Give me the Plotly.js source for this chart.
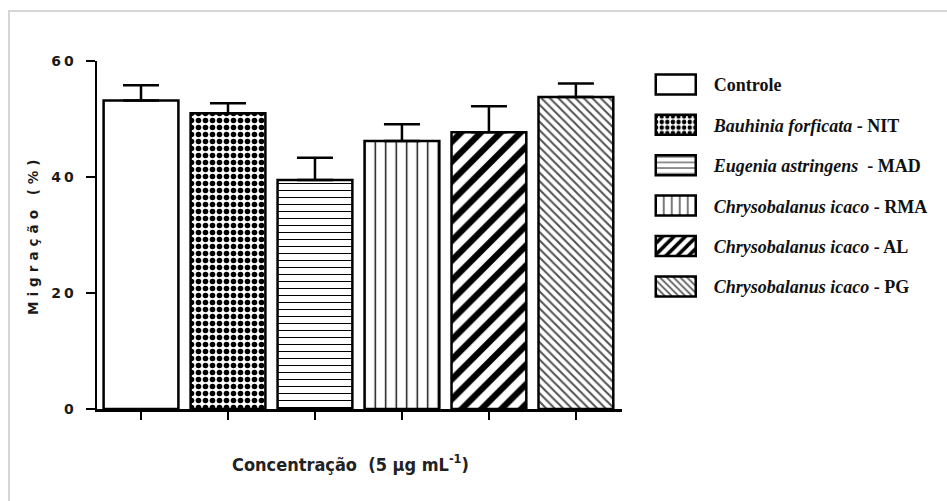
<!DOCTYPE html>
<html><head><meta charset="utf-8">
<script src="https://cdn.plot.ly/plotly-3.0.1.min.js"></script>
<style>
html,body{margin:0;padding:0;background:#fff;}
#wrap{position:relative;width:947px;height:501px;overflow:hidden;}
#chart{width:947px;height:501px;}
#frame{position:absolute;left:8px;top:10px;width:960px;height:520px;border-left:2px solid #d6d6d6;border-top:2px solid #d6d6d6;pointer-events:none;}
.ytick text{letter-spacing:3px;}
.annotation[data-index="1"] text{letter-spacing:5px;}
</style></head><body>
<div id="wrap"><div id="chart"></div><div id="frame"></div></div>
<script>
// ---- data ----
const categories = ['Controle', 'Bauhinia forficata - NIT', 'Eugenia astringens - MAD',
                    'Chrysobalanus icaco - RMA', 'Chrysobalanus icaco - AL', 'Chrysobalanus icaco - PG'];
const legendLabels = ['<b>Controle</b>',
                      '<b><i>Bauhinia forficata</i> - NIT</b>',
                      '<b><i>Eugenia astringens</i>  - MAD</b>',
                      '<b><i>Chrysobalanus icaco</i> - RMA</b>',
                      '<b><i>Chrysobalanus icaco</i> - AL</b>',
                      '<b><i>Chrysobalanus icaco</i> - PG</b>'];
const values = [53.2, 51.0, 39.5, 46.2, 47.7, 53.8];
const errors = [2.6, 1.7, 3.8, 2.9, 4.5, 2.3];
const yTickVals = [0, 20, 40, 60];
const yTickText = ['0', '20', '40', '60'];
const yTitle = 'Migração (%)';
const xTitle = '<b>Concentração  (5 µg mL<sup>-1</sup>)</b>';

// ---- styles ----
const patterns = [
  {shape: '', bgcolor: '#ffffff'},
  {shape: '.', fgcolor: '#000000', bgcolor: '#ffffff', size: 7, solidity: 0.5},
  {shape: '-', fgcolor: '#000000', bgcolor: '#ffffff', size: 7, solidity: 0.15},
  {shape: '|', fgcolor: '#000000', bgcolor: '#ffffff', size: 10.5, solidity: 0.13},
  {shape: '/', fgcolor: '#000000', bgcolor: '#ffffff', size: 14, solidity: 0.45},
  {shape: '\\', fgcolor: '#555555', bgcolor: '#ffffff', size: 6, solidity: 0.35}
];

const traces = categories.map((c, i) => ({
  type: 'bar',
  x: [c],
  y: [values[i]],
  name: legendLabels[i],
  legendgroup: 'g' + i,
  marker: {
    color: '#ffffff',
    line: {color: '#000000', width: 2.5},
    pattern: patterns[i]
  },
  error_y: {
    type: 'data', symmetric: false,
    array: [errors[i]], arrayminus: [0],
    color: '#000000', thickness: 2.5, width: 18
  },
  hoverinfo: 'x+y'
}));

const layout = {
  width: 947, height: 501,
  margin: {l: 97, r: 325, t: 61, b: 92},
  paper_bgcolor: '#ffffff', plot_bgcolor: '#ffffff',
  barmode: 'overlay',
  bargap: 0.14,
  showlegend: true,
  legend: {
    x: 1.03, xanchor: 'left', y: 0.985, yanchor: 'top',
    traceorder: 'grouped', tracegroupgap: 14,
    itemwidth: 66, valign: 'middle',
    font: {family: 'Liberation Serif, Times New Roman, serif', size: 18, color: '#111111'},
    bgcolor: 'rgba(0,0,0,0)'
  },
  xaxis: {
    type: 'category',
    categoryarray: categories,
    range: [-0.506, 5.53],
    showticklabels: false,
    ticks: 'outside', ticklen: 8, tickwidth: 2.5, tickcolor: '#000',
    showline: true, linecolor: '#000', linewidth: 2.5,
    showgrid: false, zeroline: false, fixedrange: true
  },
  yaxis: {
    range: [0, 60],
    tickvals: yTickVals, ticktext: yTickText,
    ticks: 'outside', ticklen: 9, tickwidth: 2.5, tickcolor: '#000',
    ticklabelstandoff: 6,
    tickfont: {family: 'DejaVu Sans, Arial, sans-serif', size: 14, color: '#1a1a1a', weight: 'bold'},
    showline: true, linecolor: '#000', linewidth: 2.5,
    showgrid: false, zeroline: false, fixedrange: true
  },
  annotations: [
    {text: xTitle, xref: 'paper', yref: 'paper', x: 0.482, y: -0.155,
     xanchor: 'center', yanchor: 'middle', showarrow: false,
     font: {family: 'DejaVu Sans Condensed, DejaVu Sans, sans-serif', size: 18, color: '#222222'}},
    {text: '<b>' + yTitle + '</b>', xref: 'paper', yref: 'paper', x: -0.122, y: 0.5,
     xanchor: 'center', yanchor: 'middle', textangle: -90, showarrow: false,
     font: {family: 'DejaVu Sans, Arial, sans-serif', size: 13.5, color: '#1a1a1a'}}
  ]
};

Plotly.newPlot('chart', traces, layout, {displayModeBar: false, staticPlot: true}).then(gd => {
  gd.querySelectorAll('.legend .legendpoints path').forEach(p => {
    p.setAttribute('d', 'M20,10H-20V-10H20Z');
  });
});
</script>
</body></html>
